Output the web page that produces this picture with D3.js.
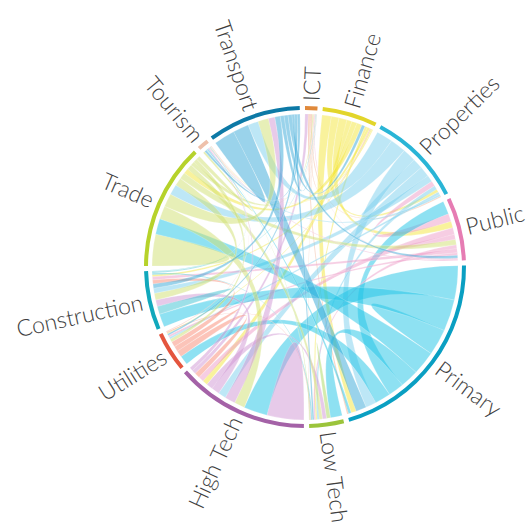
<!DOCTYPE html>
<html>
<head>
<meta charset="utf-8">
<script src="https://cdn.jsdelivr.net/npm/d3@7"></script>
<style>
  html, body { margin: 0; padding: 0; background: #fff; }
  svg { display: block; }
  text { font-family: "Lato", "Open Sans", sans-serif; }
</style>
</head>
<body>
<svg id="chart" width="528" height="525"></svg>
<script>
// Sector names (clockwise from 12 o'clock)
const names = ["ICT", "Finance", "Properties", "Public", "Primary", "Low Tech",
               "High Tech", "Utilities", "Construction", "Trade", "Tourism", "Transport"];

// Sector ring colours and ribbon colours
const arcColors = ["#e0893b", "#e2d52a", "#2ab5d6", "#e67cb3", "#0a9fc2", "#9bc43b",
                   "#a462a7", "#e4553e", "#11a8bc", "#b6d22b", "#eec0ab", "#0c79a6"];
const ribbonColors = ["#f0a27c", "#f4e53a", "#7ccfee", "#ee9cc7", "#1ec3e6", "#a9d85c",
                      "#cf96d3", "#f98a73", "#3cc2d1", "#cfe06f", "#f3c8b4", "#36a8d8"];

// Flow matrix: row = sector, column = partner (ribbon end width in the row sector)
const rowICT          = [0.3, 0.5, 0.5, 0.3, 0.6, 0.2, 1.2, 0.1, 0.2, 0.4, 0.1, 0.1];
const rowFinance      = [0.5, 2.0, 3.0, 3.0, 3.5, 1.0, 2.0, 0.5, 1.0, 2.0, 0.3, 1.2];
const rowProperties   = [0.4, 1.2, 4.0, 2.0, 5.0, 1.5, 4.0, 1.0, 2.5, 6.0, 0.7, 6.2];
const rowPublic       = [0.5, 2.5, 3.0, 2.0, 5.0, 1.5, 2.5, 1.0, 1.5, 2.0, 0.5, 1.0];
const rowPrimary      = [0.6, 2.0, 4.0, 6.0, 10.0, 7.0, 13.0, 6.0, 12.0, 9.0, 1.0, 4.0];
const rowLowTech      = [0.2, 0.6, 0.8, 0.6, 4.5, 1.5, 1.5, 0.3, 0.5, 1.2, 0.3, 0.6];
const rowHighTech     = [1.5, 2.0, 3.0, 2.0, 9.0, 2.5, 14.0, 2.0, 3.0, 4.0, 1.4, 4.0];
const rowUtilities    = [0.1, 0.4, 0.8, 0.8, 3.5, 0.4, 2.5, 2.0, 2.0, 1.2, 0.2, 0.6];
const rowConstruction = [0.3, 0.8, 2.0, 1.2, 5.0, 0.6, 2.5, 1.5, 3.0, 2.5, 0.5, 1.6];
const rowTrade        = [1.5, 2.0, 4.0, 2.5, 6.0, 2.0, 5.0, 1.5, 3.0, 12.0, 1.5, 5.0];
const rowTourism      = [0.1, 0.2, 0.4, 0.3, 0.4, 0.1, 0.4, 0.1, 0.2, 0.8, 0.2, 0.8];
const rowTransport    = [1.5, 1.5, 4.0, 1.5, 6.0, 1.0, 2.5, 1.0, 2.0, 4.0, 1.0, 8.0];

const matrix = [rowICT, rowFinance, rowProperties, rowPublic, rowPrimary, rowLowTech,
                rowHighTech, rowUtilities, rowConstruction, rowTrade, rowTourism, rowTransport];

const width = 528, height = 525;
const cx = 305, cy = 267;
const outerR = 161, innerR = 157, ribbonR = 153, labelR = 166;

const svg = d3.select("#chart");
const g = svg.append("g").attr("transform", `translate(${cx},${cy})`);

const chord = d3.chord()
  .padAngle(0.033)
  .sortSubgroups(d3.descending);
const chords = chord(matrix);

const arc = d3.arc().innerRadius(innerR).outerRadius(outerR);
const ribbon = d3.ribbon().radius(ribbonR);

// ribbons
g.append("g")
  .selectAll("path")
  .data(chords)
  .join("path")
  .attr("d", ribbon)
  .attr("fill", d => ribbonColors[d.source.index])
  .attr("fill-opacity", 0.5)
  .attr("stroke", "#ffffff")
  .attr("stroke-opacity", 0.4)
  .attr("stroke-width", 0.5);

// sector rings
const grp = g.append("g")
  .selectAll("g")
  .data(chords.groups)
  .join("g");

grp.append("path")
  .attr("d", arc)
  .attr("fill", d => arcColors[d.index]);

// labels
grp.append("text")
  .each(d => { d.angle = (d.startAngle + d.endAngle) / 2; })
  .attr("dy", "0.35em")
  .attr("transform", d => `rotate(${d.angle * 180 / Math.PI - 90}) translate(${labelR})` +
        (d.angle > Math.PI ? " rotate(180)" : ""))
  .attr("text-anchor", d => d.angle > Math.PI ? "end" : "start")
  .attr("font-size", 23)
  .attr("font-weight", 300)
  .attr("fill", "#3e3e3e")
  .text(d => names[d.index]);
</script>
</body>
</html>
